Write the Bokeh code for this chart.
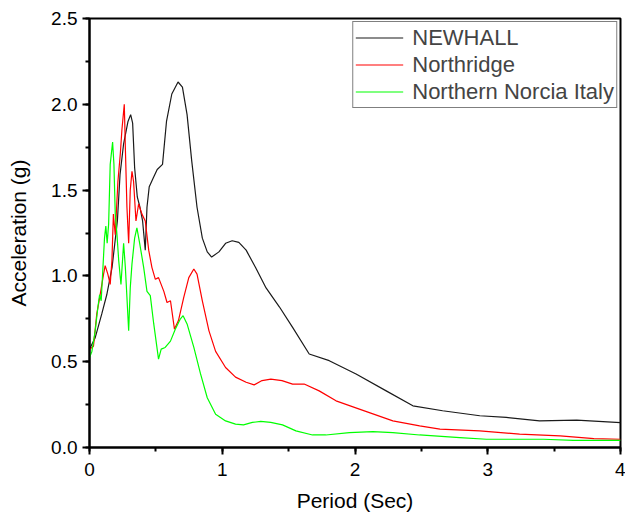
from bokeh.plotting import figure
from bokeh.models import Range1d, SingleIntervalTicker, NumeralTickFormatter
from bokeh.embed import file_html
from bokeh.resources import INLINE

# NEWHALL
newhall_t = [0.0, 0.043, 0.093, 0.13, 0.17, 0.21, 0.23, 0.257, 0.29, 0.31, 0.325, 0.34, 0.36, 0.38,
             0.40, 0.42, 0.433, 0.45, 0.48, 0.51, 0.55, 0.58, 0.62, 0.667, 0.70, 0.735, 0.77, 0.81,
             0.85, 0.887, 0.92, 0.975, 1.025, 1.075, 1.125, 1.18, 1.25, 1.33, 1.43, 1.53, 1.655,
             1.806, 2.008, 2.235, 2.436, 2.66, 2.94, 3.14, 3.39, 3.67, 4.0]
newhall_a = [0.573, 0.64, 0.78, 0.89, 1.05, 1.32, 1.59, 1.77, 1.90, 1.94, 1.89, 1.63, 1.46, 1.40,
             1.32, 1.15, 1.40, 1.52, 1.57, 1.62, 1.65, 1.90, 2.06, 2.13, 2.10, 1.94, 1.67, 1.40,
             1.22, 1.14, 1.11, 1.14, 1.19, 1.205, 1.195, 1.15, 1.05, 0.93, 0.82, 0.70, 0.545,
             0.506, 0.428, 0.330, 0.243, 0.214, 0.185, 0.175, 0.155, 0.159, 0.145]

# Northridge
northridge_t = [0.0, 0.03, 0.055, 0.068, 0.08, 0.106, 0.118, 0.138, 0.156, 0.169, 0.18, 0.194, 0.214,
                0.232, 0.244, 0.262, 0.27, 0.282, 0.295, 0.307, 0.32, 0.332, 0.35, 0.37, 0.395, 0.42,
                0.446, 0.47, 0.496, 0.52, 0.56, 0.584, 0.61, 0.64, 0.67, 0.71, 0.748, 0.786, 0.81,
                0.85, 0.90, 0.95, 1.025, 1.10, 1.18, 1.24, 1.30, 1.366, 1.45, 1.53, 1.617, 1.73,
                1.857, 2.033, 2.285, 2.487, 2.64, 2.94, 3.24, 3.545, 3.80, 4.0]
northridge_a = [0.573, 0.59, 0.78, 0.835, 0.89, 1.01, 1.06, 1.01, 0.95, 1.09, 1.36, 1.24, 1.55,
                1.71, 1.85, 2.00, 1.75, 1.40, 1.19, 1.50, 1.61, 1.55, 1.32, 1.42, 1.36, 1.32,
                1.15, 1.05, 0.98, 0.99, 0.91, 0.845, 0.855, 0.69, 0.74, 0.875, 0.99, 1.04, 1.01,
                0.855, 0.68, 0.56, 0.466, 0.41, 0.38, 0.365, 0.39, 0.398, 0.39, 0.369, 0.37, 0.33,
                0.272, 0.224, 0.155, 0.126, 0.107, 0.097, 0.078, 0.068, 0.052, 0.048]

# Northern Norcia Italy
norcia_t = [0.0, 0.018, 0.043, 0.063, 0.076, 0.088, 0.10, 0.113, 0.123, 0.133, 0.144, 0.156, 0.174,
            0.184, 0.194, 0.207, 0.22, 0.237, 0.257, 0.27, 0.282, 0.295, 0.307, 0.32, 0.34, 0.357,
            0.378, 0.408, 0.433, 0.458, 0.484, 0.52, 0.54, 0.57, 0.61, 0.647, 0.685, 0.705, 0.735,
            0.786, 0.836, 0.887, 0.95, 1.025, 1.10, 1.16, 1.227, 1.29, 1.365, 1.454, 1.555, 1.68,
            1.78, 1.958, 2.134, 2.285, 2.487, 2.789, 2.99, 3.42, 3.645, 4.0]
norcia_a = [0.525, 0.56, 0.68, 0.816, 0.89, 0.855, 1.03, 1.22, 1.29, 1.19, 1.30, 1.65, 1.78,
            1.65, 1.36, 1.24, 1.09, 0.95, 1.19, 1.05, 0.875, 0.68, 0.93, 1.07, 1.22, 1.28,
            1.19, 1.05, 0.91, 0.885, 0.72, 0.515, 0.573, 0.583, 0.62, 0.69, 0.75, 0.768, 0.72,
            0.583, 0.43, 0.29, 0.194, 0.155, 0.136, 0.132, 0.146, 0.152, 0.146, 0.132, 0.097, 0.073,
            0.073, 0.087, 0.093, 0.087, 0.073, 0.058, 0.048, 0.048, 0.042, 0.042]

FONT = "Liberation Sans"

p = figure(width=625, height=515, x_range=Range1d(0, 4), y_range=Range1d(0, 2.5),
           output_backend="svg", toolbar_location=None,
           min_border_left=89, min_border_right=5, min_border_top=18, min_border_bottom=68)

p.line(newhall_t, newhall_a, color="#1a1a1a", line_width=1.2, legend_label="NEWHALL")
p.line(northridge_t, northridge_a, color="#ff0000", line_width=1.2, legend_label="Northridge")
p.line(norcia_t, norcia_a, color="#00ff00", line_width=1.2, legend_label="Northern Norcia Italy")

p.xgrid.visible = False
p.ygrid.visible = False
p.outline_line_color = "black"
p.outline_line_width = 2
p.outline_line_alpha = 1

p.xaxis.ticker = SingleIntervalTicker(interval=1, num_minor_ticks=2)
p.yaxis.ticker = SingleIntervalTicker(interval=0.5, num_minor_ticks=2)
p.yaxis.formatter = NumeralTickFormatter(format="0.0")
p.xaxis.axis_label = "Period (Sec)"
p.yaxis.axis_label = "Acceleration (g)"

for ax in (p.xaxis, p.yaxis):
    ax.axis_line_width = 2
    ax.axis_line_color = "black"
    ax.major_tick_line_width = 2
    ax.minor_tick_line_width = 2
    ax.major_tick_out = 7
    ax.major_tick_in = 0
    ax.minor_tick_out = 4
    ax.minor_tick_in = 0
    ax.major_label_text_font = FONT
    ax.major_label_text_font_size = "19px"
    ax.major_label_text_color = "black"
    ax.axis_label_text_font = FONT
    ax.axis_label_text_font_size = "21px"
    ax.axis_label_text_font_style = "normal"
    ax.axis_label_text_color = "black"

p.xaxis.major_label_standoff = 8
p.yaxis.major_label_standoff = 5
p.xaxis.axis_label_standoff = 10
p.yaxis.axis_label_standoff = 18

lg = p.legend[0]
lg.location = "top_right"
lg.margin = 3
lg.padding = 2
lg.spacing = 0
lg.border_line_color = "black"
lg.border_line_width = 1.5
lg.label_text_font = FONT
lg.label_text_font_size = "22px"
lg.label_height = 27
lg.glyph_height = 27
lg.glyph_width = 48
lg.label_standoff = 9
lg.background_fill_alpha = 1

open("out.html", "w").write(file_html(p, INLINE))
